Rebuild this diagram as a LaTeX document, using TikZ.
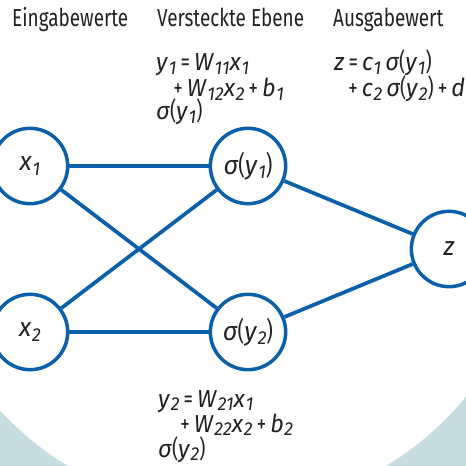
\documentclass[tikz,border=0pt]{standalone}
\usepackage{fontspec}
\setmainfont{Fira Sans}[FakeStretch=0.77, ItalicFeatures={FakeStretch=0.95}]
\usetikzlibrary{positioning}
\definecolor{netblue}{HTML}{0C60AA}
\definecolor{bggrey}{HTML}{C8DDE2}
\definecolor{ink}{HTML}{222222}
\newcommand\iv[2]{\textit{#1}\kern0.5pt\raisebox{-0.3ex}{\fontsize{16}{16}\selectfont\textit{#2}}}
\newcommand\op[1]{\hspace{3.5pt}#1\hspace{3.5pt}}
\begin{document}
\begin{tikzpicture}[every node/.style={font=\fontsize{21}{24}\selectfont, text=ink},
  neuron/.style={draw=netblue, line width=3pt, circle, fill=white, minimum size=2.26cm, inner sep=0pt, font=\fontsize{22.5}{24}\selectfont},
  wire/.style={draw=netblue, line width=3.2pt},
  lbl/.style={anchor=base west, inner sep=0pt}]
\useasboundingbox (0,0) rectangle (13.98,-13.98);
% background
\begin{scope}
\clip (0,0) rectangle (13.98,-13.98);
\fill[bggrey] (0,-11) rectangle (13.98,-13.98);
\fill[white] (6.81,-6.06) circle (9.24);
\end{scope}
% headings
\node[lbl] (hin) at (0.36,-0.81) {Eingabewerte};
\node[lbl] (hhid) at (4.71,-0.81) {Versteckte Ebene};
\node[lbl] (hout) at (9.99,-0.81) {Ausgabewert};
% formulas
\node[lbl] (f1a) at (4.68,-2.13) {\iv{y}{1}\op{=}\iv{W}{11}\iv{x}{1}};
\node[lbl] (f1b) at (5.07,-2.91) {\op{+}\iv{W}{12}\iv{x}{2}\op{+}\iv{b}{1}};
\node[lbl] (f1c) at (4.68,-3.6) {\textit{σ}(\iv{y}{1})};
\node[lbl] (fza) at (10.02,-2.13) {\textit{z}\op{=}\iv{c}{1}\,\textit{σ}(\iv{y}{1})};
\node[lbl] (fzb) at (10.32,-2.91) {\op{+}\iv{c}{2}\,\textit{σ}(\iv{y}{2})\op{+}\textit{d}};
\node[lbl] (f2a) at (4.74,-12.21) {\iv{y}{2}\op{=}\iv{W}{21}\iv{x}{1}};
\node[lbl] (f2b) at (5.28,-12.96) {\op{+}\iv{W}{22}\iv{x}{2}\op{+}\iv{b}{2}};
\node[lbl] (f2c) at (4.74,-13.71) {\textit{σ}(\iv{y}{2})};
% neurons
\node[neuron] (x1) at (0.9,-4.98) {\iv{x}{1}};
\node[neuron] (x2) at (0.9,-9.96) {\iv{x}{2}};
\node[neuron] (s1) at (7.44,-4.98) {\textit{σ}(\iv{y}{1})};
\node[neuron] (s2) at (7.44,-9.96) {\textit{σ}(\iv{y}{2})};
\node[neuron] (z) at (13.47,-7.47) {\textit{z}};
% connections
\draw[wire, line width=3.8pt] (x1) -- (s1);
\draw[wire] (x1) -- (s2);
\draw[wire] (x2) -- (s1);
\draw[wire] (x2) -- (s2);
\draw[wire] (s1) -- (z);
\draw[wire] (s2) -- (z);
\end{tikzpicture}
\end{document}
